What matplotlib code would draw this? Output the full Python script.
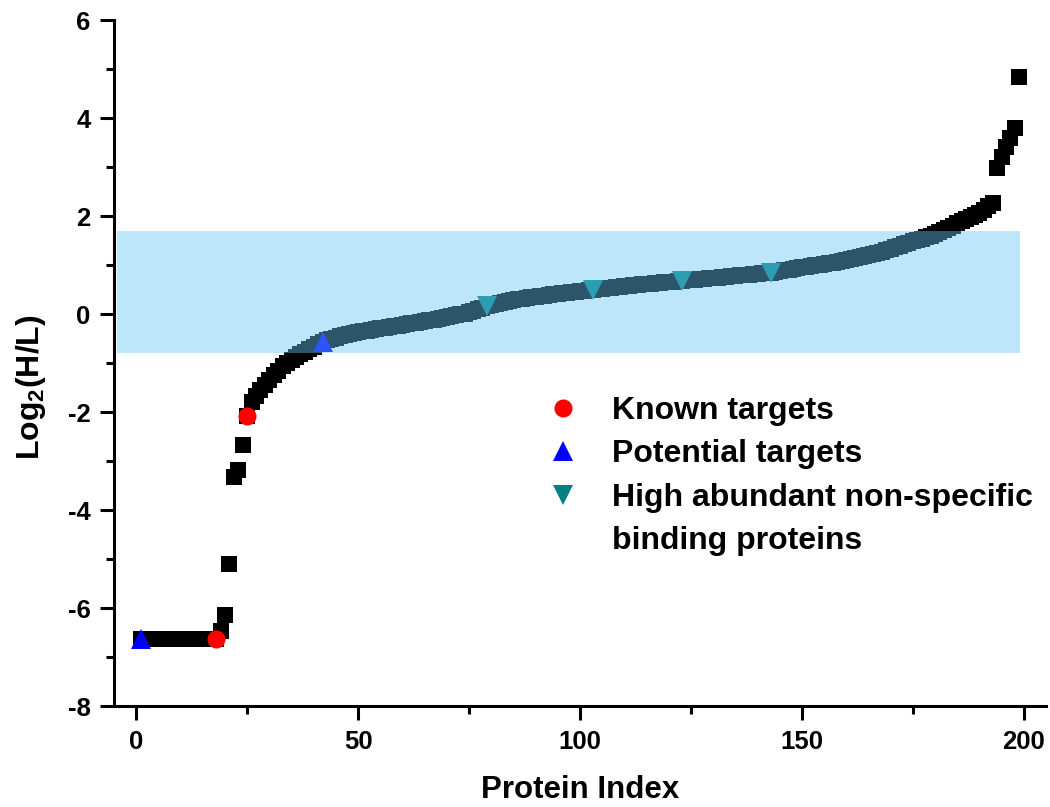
import numpy as np
import matplotlib
matplotlib.use("Agg")
import matplotlib.pyplot as plt
from matplotlib.lines import Line2D
from matplotlib.ticker import MultipleLocator

# FONTS: bold Arial-like everywhere
plt.rcParams['font.family'] = ['Liberation Sans', 'DejaVu Sans']
plt.rcParams['font.weight'] = 'bold'
plt.rcParams['axes.unicode_minus'] = False
plt.rcParams['mathtext.fontset'] = 'custom'
plt.rcParams['mathtext.rm'] = 'Liberation Sans:bold'
plt.rcParams['mathtext.it'] = 'Liberation Sans:bold'
plt.rcParams['mathtext.bf'] = 'Liberation Sans:bold'
plt.rcParams['mathtext.default'] = 'rm'

# DATA: sorted log2(H/L) ratios, protein index 1..199
log_ratio = [-6.64] * 18 + [
    -6.47, -6.15, -5.10, -3.33, -3.18, -2.68, -2.09, -1.80, -1.67, -1.55,     # 19-28
    -1.45, -1.35, -1.25, -1.16, -1.07, -0.99, -0.93, -0.87, -0.82, -0.77,     # 29-38
    -0.72, -0.67, -0.62, -0.57, -0.54, -0.51, -0.48, -0.45, -0.43, -0.41,     # 39-48
    -0.39, -0.37, -0.355, -0.34, -0.325, -0.31, -0.295, -0.28, -0.265, -0.25, # 49-58
    -0.235, -0.22, -0.205, -0.19, -0.175, -0.16, -0.145, -0.13, -0.115, -0.10,  # 59-68
    -0.085, -0.07, -0.05, -0.03, -0.01, 0.01, 0.04, 0.07, 0.10, 0.13,         # 69-78
    0.16, 0.18, 0.20, 0.22, 0.24, 0.26, 0.28, 0.30, 0.31, 0.32,               # 79-88
    0.34, 0.35, 0.36, 0.37, 0.39, 0.40, 0.41, 0.42, 0.43, 0.44,               # 89-98
    0.45, 0.46, 0.47, 0.48, 0.49, 0.51, 0.52, 0.53, 0.54, 0.55,               # 99-108
    0.56, 0.57, 0.58, 0.59, 0.60, 0.61, 0.62, 0.62, 0.63, 0.64,               # 109-118
    0.65, 0.66, 0.66, 0.67, 0.67, 0.69, 0.70, 0.70, 0.71, 0.72,               # 119-128
    0.73, 0.74, 0.74, 0.75, 0.76, 0.77, 0.78, 0.79, 0.79, 0.80,               # 129-138
    0.81, 0.82, 0.83, 0.84, 0.84, 0.86, 0.87, 0.89, 0.90, 0.92,               # 139-148
    0.93, 0.95, 0.96, 0.98, 0.99, 1.01, 1.02, 1.04, 1.05, 1.07,               # 149-158
    1.09, 1.10, 1.12, 1.14, 1.16, 1.18, 1.20, 1.22, 1.25, 1.27,               # 159-168
    1.30, 1.33, 1.36, 1.39, 1.42, 1.45, 1.48, 1.51, 1.54, 1.57,               # 169-178
    1.60, 1.63, 1.67, 1.71, 1.75, 1.80, 1.85, 1.90, 1.94, 1.98,               # 179-188
    2.02, 2.07, 2.13, 2.20, 2.27, 2.98, 3.20, 3.40, 3.60, 3.79,               # 189-198
    4.83,                                                                    # 199
]
protein_index = np.arange(1, len(log_ratio) + 1)
log_ratio = np.array(log_ratio)

known_idx = [18, 25]
potential_idx = [1, 42]
abundant_idx = [79, 103, 123, 143]

# shaded region (x from/to, y from/to)
band_x = [-4.35, 199.1]
band_y = [-0.79, 1.69]

legend_labels = ['Known targets', 'Potential targets',
                 'High abundant non-specific', 'binding proteins']

# PLOT
fig = plt.figure(figsize=(10.5, 8.07), dpi=100)
ax = fig.add_axes([114 / 1050, 101 / 807, 932 / 1050, 686 / 807])

ax.plot(protein_index, log_ratio, 's', color='black', markersize=11, markeredgewidth=0, zorder=2)

def pick(idx):
    idx = np.array(idx)
    return idx, log_ratio[idx - 1]

kx, ky = pick(known_idx)
px, py = pick(potential_idx)
ax_, ay = pick(abundant_idx)
ax.plot(kx, ky, 'o', color='red', markersize=13, markeredgewidth=0, zorder=3)
ax.plot(px, py, '^', color='blue', markersize=14, markeredgewidth=0, zorder=3)
ax.plot(ax_, ay, 'v', color='#008080', markersize=14, markeredgewidth=0, zorder=3)

ax.fill_between(band_x, band_y[0], band_y[1], color='#69c6f4', alpha=0.43,
                linewidth=0, zorder=4)

ax.set_xlim(-5, 205)
ax.set_ylim(-8, 6)
ax.xaxis.set_major_locator(MultipleLocator(50))
ax.xaxis.set_minor_locator(MultipleLocator(25))
ax.yaxis.set_major_locator(MultipleLocator(2))
ax.yaxis.set_minor_locator(MultipleLocator(1))

for side in ['top', 'right']:
    ax.spines[side].set_visible(False)
for side in ['left', 'bottom']:
    ax.spines[side].set_linewidth(2.2)

ax.tick_params(which='major', direction='out', length=10, width=2.2, labelsize=18.5, pad=7)
ax.tick_params(which='minor', direction='out', length=5.5, width=2.2)

ax.set_xlabel('Protein Index', fontsize=22.5, fontweight='bold')
ax.set_ylabel(r'Log$_2$(H/L)', fontsize=23, fontweight='bold')
ax.xaxis.set_label_coords(0.5, -0.1)
ax.yaxis.set_label_coords(-0.071, 0.465)

handles = [
    Line2D([], [], linestyle='none', marker='o', color='red', markersize=13, markeredgewidth=0),
    Line2D([], [], linestyle='none', marker='^', color='blue', markersize=14, markeredgewidth=0),
    Line2D([], [], linestyle='none', marker='v', color='#008080', markersize=14, markeredgewidth=0),
    Line2D([], [], linestyle='none'),
]
leg = ax.legend(handles, legend_labels, loc='upper left', bbox_to_anchor=(0.447, 0.452),
                frameon=False, fontsize=23, borderpad=0, borderaxespad=0,
                handlelength=2.0, handletextpad=0.56, labelspacing=0.42)
leg.set_zorder(5)

fig.savefig('out.png', dpi=100)
